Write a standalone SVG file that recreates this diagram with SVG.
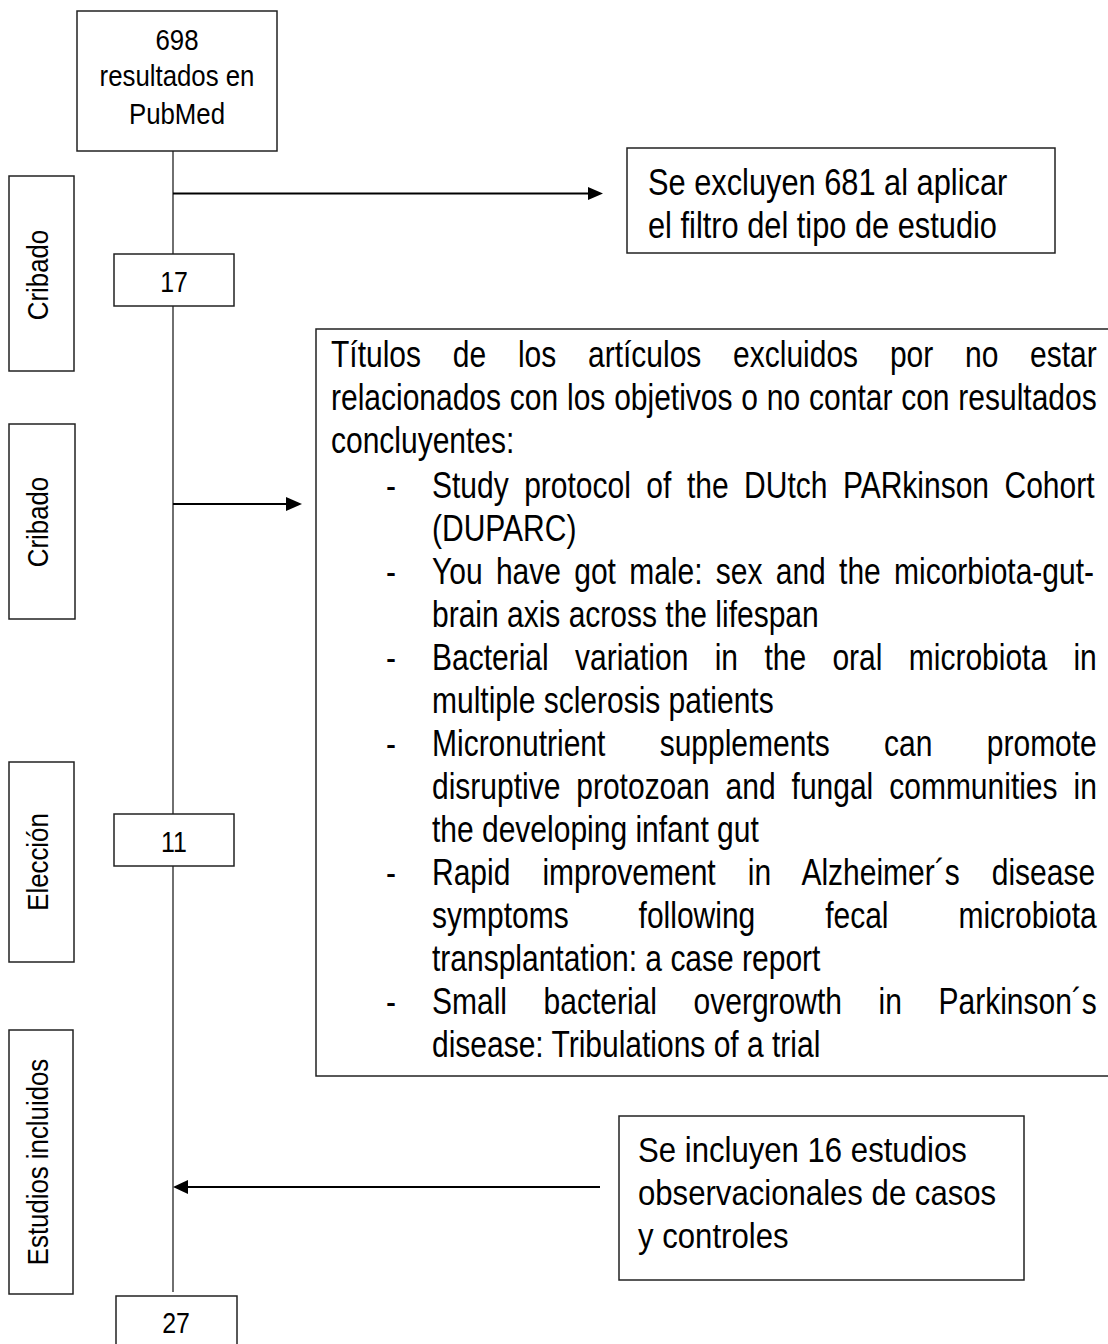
<svg xmlns="http://www.w3.org/2000/svg" width="1108" height="1344" viewBox="0 0 1108 1344">
<style>
.box{fill:#fff;stroke:#222;stroke-width:1.5}
.t{font-family:"Liberation Sans",Arial,sans-serif;fill:#000}
.lbl{font-size:30px;text-anchor:middle}
.num{font-size:29px;text-anchor:middle}
.bb{font-size:36.5px}
.sb{font-size:36px}
.trunk{stroke:#333;stroke-width:1.4;fill:none}
.arr{stroke:#000;stroke-width:2.2;fill:none}
.head{fill:#000}
</style>
<rect width="1108" height="1344" fill="#fff"/>

<g id="phase-cribado-1">
<rect class="box" x="9" y="176" width="65" height="195"/>
<text class="t lbl" transform="translate(48,275) rotate(-90) scale(0.86,1)">Cribado</text>
</g>
<g id="phase-cribado-2">
<rect class="box" x="9" y="424" width="66" height="195"/>
<text class="t lbl" transform="translate(48,522) rotate(-90) scale(0.86,1)">Cribado</text>
</g>
<g id="phase-eleccion">
<rect class="box" x="9" y="762" width="65" height="200"/>
<text class="t lbl" transform="translate(48,862) rotate(-90) scale(0.86,1)">Elección</text>
</g>
<g id="phase-incluidos">
<rect class="box" x="9" y="1030" width="64" height="264"/>
<text class="t lbl" transform="translate(48,1162) rotate(-90) scale(0.86,1)">Estudios incluidos</text>
</g>

<g id="connectors">
<line class="trunk" x1="173" y1="123" x2="173" y2="254"/>
<line class="trunk" x1="173" y1="306" x2="173" y2="814"/>
<line class="trunk" x1="173" y1="866" x2="173" y2="1292"/>
<line class="arr" x1="173" y1="193.5" x2="590" y2="193.5"/>
<polygon class="head" points="588,187 603,193.5 588,200"/>
<line class="arr" x1="173" y1="504" x2="288" y2="504"/>
<polygon class="head" points="286,497 302,504 286,511"/>
<line class="arr" x1="600" y1="1187" x2="186" y2="1187"/>
<polygon class="head" points="188,1180 173,1187 188,1194"/>
</g>

<g id="n-pubmed">
<rect class="box" x="77" y="11" width="200" height="140"/>
<text class="t num" transform="translate(177,50) scale(0.89,1)">698</text>
<text class="t num" transform="translate(177,86) scale(0.89,1)">resultados en</text>
<text class="t num" transform="translate(177,124) scale(0.89,1)">PubMed</text>
</g>

<g id="n-excluyen-681">
<rect class="box" x="627" y="148" width="428" height="105"/>
<text class="t sb" transform="translate(648,195) scale(0.855,1)">Se excluyen 681 al aplicar</text>
<text class="t sb" transform="translate(648,238) scale(0.855,1)">el filtro del tipo de estudio</text>
</g>

<g id="n-17">
<rect class="box" x="114" y="254" width="120" height="52"/>
<text class="t num" transform="translate(174,292) scale(0.86,1)">17</text>
</g>

<g id="n-titulos">
<rect class="box" x="316" y="329" width="800" height="747"/>
<g class="t bb">
<text transform="translate(331,367) scale(0.822,1)" word-spacing="28.52">Títulos de los artículos excluidos por no estar</text>
<text transform="translate(331,410) scale(0.822,1)" word-spacing="0.6">relacionados con los objetivos o no contar con resultados</text>
<text transform="translate(331,453) scale(0.822,1)">concluyentes:</text>
<text transform="translate(386,498) scale(0.822,1)">-</text>
<text transform="translate(432,498) scale(0.822,1)" word-spacing="8.73">Study protocol of the DUtch PARkinson Cohort</text>
<text transform="translate(432,541) scale(0.822,1)">(DUPARC)</text>
<text transform="translate(386,584) scale(0.822,1)">-</text>
<text transform="translate(432,584) scale(0.822,1)" word-spacing="6.03">You have got male: sex and the micorbiota-gut-</text>
<text transform="translate(432,627) scale(0.822,1)">brain axis across the lifespan</text>
<text transform="translate(386,670) scale(0.822,1)">-</text>
<text transform="translate(432,670) scale(0.822,1)" word-spacing="21.92">Bacterial variation in the oral microbiota in</text>
<text transform="translate(432,713) scale(0.822,1)">multiple sclerosis patients</text>
<text transform="translate(386,756) scale(0.822,1)">-</text>
<text transform="translate(432,756) scale(0.822,1)" word-spacing="56.01">Micronutrient supplements can promote</text>
<text transform="translate(432,799) scale(0.822,1)" word-spacing="9.27">disruptive protozoan and fungal communities in</text>
<text transform="translate(432,842) scale(0.822,1)">the developing infant gut</text>
<text transform="translate(386,885) scale(0.822,1)">-</text>
<text transform="translate(432,885) scale(0.822,1)" word-spacing="28.83">Rapid improvement in Alzheimer´s disease</text>
<text transform="translate(432,928) scale(0.822,1)" word-spacing="74.94">symptoms following fecal microbiota</text>
<text transform="translate(432,971) scale(0.822,1)">transplantation: a case report</text>
<text transform="translate(386,1014) scale(0.822,1)">-</text>
<text transform="translate(432,1014) scale(0.822,1)" word-spacing="34.43">Small bacterial overgrowth in Parkinson´s</text>
<text transform="translate(432,1057) scale(0.822,1)">disease: Tribulations of a trial</text>
</g>
</g>

<g id="n-11">
<rect class="box" x="114" y="814" width="120" height="52"/>
<text class="t num" transform="translate(174,852) scale(0.86,1)">11</text>
</g>

<g id="n-incluyen-16">
<rect class="box" x="619" y="1116" width="405" height="164"/>
<text class="t sb" transform="translate(638,1162) scale(0.865,1)">Se incluyen 16 estudios</text>
<text class="t sb" transform="translate(638,1205) scale(0.865,1)">observacionales de casos</text>
<text class="t sb" transform="translate(638,1248) scale(0.865,1)">y controles</text>
</g>

<g id="n-27">
<rect class="box" x="116" y="1296" width="121" height="60"/>
<text class="t num" transform="translate(176,1333) scale(0.86,1)">27</text>
</g>
</svg>
